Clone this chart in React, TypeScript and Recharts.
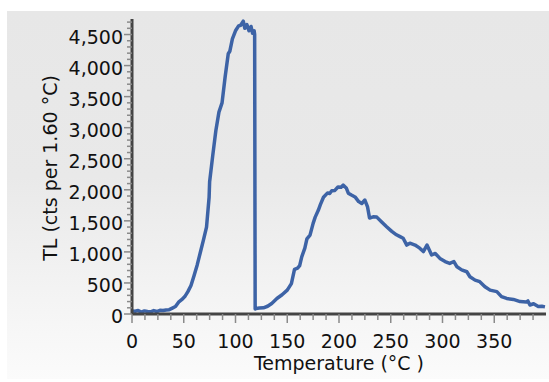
import React from "react";
import { LineChart, Line, XAxis, YAxis } from "recharts";

// temperature (°C) and TL counts
const temps = [
  0, 3, 6, 9, 12, 15, 18, 21, 24, 27, 30, 33, 36, 39, 42, 45, 48, 51, 54, 57,
  60, 63, 66, 69, 72, 74.5, 75, 78, 81, 84, 87, 90, 93, 94.5, 97, 100, 103, 105,
  107.5, 109, 111, 113, 115, 116.5, 118, 118.5, 119, 120, 123, 127, 131, 135,
  140, 145, 150, 154, 157, 160, 162, 164, 167, 169, 172, 175, 177, 180, 182,
  185, 189, 191, 193, 196, 199, 202, 204, 207, 209, 212, 215.5, 219, 222, 225,
  227.5, 229.5, 233, 236.5, 241, 246, 251, 255.5, 259, 262, 265.5, 268.5,
  273.5, 278, 281.5, 285, 289.5, 293, 297.5, 302.5, 307, 311, 314, 318.5,
  323.5, 326.5, 331.5, 336, 341, 346, 352.5, 357, 362, 368.5, 375, 381, 382.5,
  384.5, 388, 392.5, 396, 399,
];
const counts = [
  50, 45, 55, 30, 50, 40, 35, 55, 40, 60, 55, 65, 70, 95, 120, 190, 230, 280,
  360, 460, 620, 790, 990, 1190, 1400, 1880, 2130, 2550, 2950, 3250, 3400,
  3820, 4190, 4230, 4430, 4560, 4640, 4650, 4715, 4600, 4660, 4560, 4630, 4520,
  4560, 4500, 80, 90, 95, 100, 125, 170, 250, 310, 385, 490, 720, 740, 780,
  920, 1060, 1210, 1270, 1460, 1560, 1670, 1760, 1880, 1950, 1940, 1985, 1990,
  2045, 2040, 2075, 2030, 1945, 1915, 1885, 1810, 1780, 1835, 1730, 1545, 1565,
  1560, 1485, 1405, 1330, 1275, 1245, 1220, 1110, 1140, 1110, 1060, 1005, 1110,
  950, 975, 895, 845, 815, 845, 760, 710, 680, 600, 545, 520, 440, 385, 360,
  280, 250, 235, 200, 195, 210, 145, 165, 120, 125, 115,
];

const xMajor = [0, 50, 100, 150, 200, 250, 300, 350];
const yMajor = [0, 500, 1000, 1500, 2000, 2500, 3000, 3500, 4000, 4500];
const xTicks = Array.from({ length: 32 }, (_, i) => i * 12.5);
const yTicks = Array.from({ length: 48 }, (_, i) => i * 100);

const data = temps.map((t, i) => ({ t, tl: counts[i] }));

const FONT = "'DejaVu Sans', Verdana, sans-serif";
const TICK_COLOR = "#8a8a8a";

function YTick(props: any) {
  const { x, y, payload } = props;
  const major = yMajor.includes(payload.value);
  const len = major ? 8 : 5;
  return (
    <g>
      <line x1={x - len} x2={x} y1={y} y2={y} stroke={TICK_COLOR} strokeWidth={1.5} />
      {major && (
        <text x={x - len - 1} y={y + 2} textAnchor="end" dominantBaseline="central" fontSize={19} fill="#111" fontFamily={FONT}>
          {payload.value.toLocaleString("en-US")}
        </text>
      )}
    </g>
  );
}

function XTick(props: any) {
  const { x, y, payload } = props;
  const major = xMajor.includes(payload.value);
  const len = major ? 9 : 6;
  return (
    <g>
      <line x1={x} x2={x} y1={y} y2={y + len} stroke={TICK_COLOR} strokeWidth={1.5} />
      {major && (
        <text x={x} y={y + 34} textAnchor="middle" fontSize={19} fill="#111" fontFamily={FONT}>
          {payload.value}
        </text>
      )}
    </g>
  );
}

export default function App() {
  return (
    <div style={{ position: "absolute", left: 0, top: 0, width: 549, height: 382, background: "#fff" }}>
      <div
        style={{
          position: "absolute",
          left: 7,
          top: 11,
          width: 542,
          height: 368,
          background: "linear-gradient(#e7e7e7 0%, #e9e9e9 45%, #fbfbfb 100%)",
        }}
      />
      <div style={{ position: "absolute", left: 0, top: 0 }}>
        <LineChart width={549} height={382} data={data} margin={{ top: 19, right: 3, bottom: 18, left: 72 }}>
          <XAxis
            dataKey="t"
            type="number"
            domain={[0, 400]}
            ticks={xTicks}
            interval={0}
            height={50}
            tickSize={0}
            tickMargin={0}
            tickLine={false}
            axisLine={{ stroke: "#444", strokeWidth: 3 }}
            tick={<XTick />}
            allowDataOverflow
          />
          <YAxis
            type="number"
            domain={[0, 4750]}
            ticks={yTicks}
            interval={0}
            width={60}
            tickSize={0}
            tickMargin={0}
            tickLine={false}
            axisLine={{ stroke: "#444", strokeWidth: 3 }}
            tick={<YTick />}
            allowDataOverflow
          />
          <Line
            type="linear"
            dataKey="tl"
            stroke="#3d63a6"
            strokeWidth={3.5}
            strokeLinejoin="round"
            dot={false}
            isAnimationActive={false}
          />
        </LineChart>
      </div>
      <div
        style={{
          position: "absolute",
          left: 0,
          top: 0,
          width: 549,
          height: 382,
          pointerEvents: "none",
        }}
      >
        <svg width={549} height={382}>
          <text x={339} y={370} textAnchor="middle" fontSize={19} fill="#111" fontFamily={FONT}>
            Temperature (°C )
          </text>
          <text
            x={57}
            y={168}
            textAnchor="middle"
            fontSize={19}
            fill="#111"
            fontFamily={FONT}
            transform="rotate(-90 57 168)"
          >
            TL (cts per 1.60 °C)
          </text>
        </svg>
      </div>
    </div>
  );
}
